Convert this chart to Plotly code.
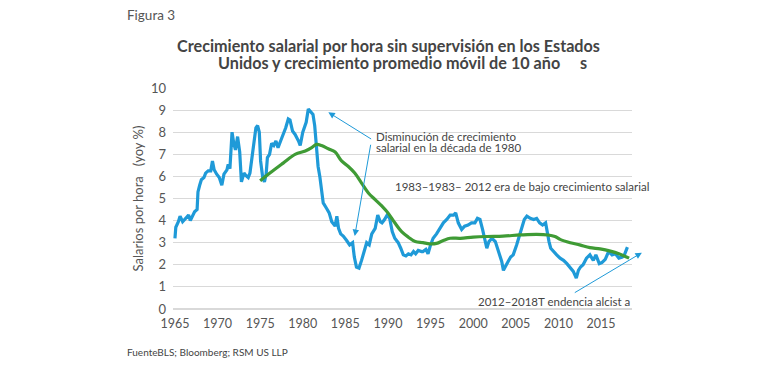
import plotly.graph_objects as go

# Hourly wage growth (yoy %)
wage_years = [1965.0, 1965.1, 1965.4, 1965.6, 1965.9, 1966.3, 1966.6, 1966.8, 1967.1, 1967.3,
              1967.6, 1967.7, 1967.9, 1968.1, 1968.4, 1968.6, 1968.9, 1969.2, 1969.4, 1969.6,
              1969.9, 1970.2, 1970.5, 1970.75, 1971.1, 1971.25, 1971.45, 1971.7, 1971.9, 1972.1,
              1972.35, 1972.6, 1972.8, 1973.1, 1973.3, 1973.6, 1973.8, 1974.0, 1974.3, 1974.5,
              1974.7, 1974.9, 1975.05, 1975.3, 1975.5, 1975.7, 1975.85, 1976.1, 1976.35, 1976.6,
              1976.85, 1977.1, 1977.4, 1977.7, 1978.0, 1978.3, 1978.5, 1978.8, 1979.1, 1979.5,
              1979.7, 1980.0, 1980.4, 1980.65, 1980.9, 1981.2, 1981.4, 1981.6, 1981.8, 1982.0,
              1982.2, 1982.4, 1982.8, 1983.1, 1983.4, 1983.8, 1984.0, 1984.2, 1984.45, 1984.75,
              1985.15, 1985.5, 1985.85, 1986.05, 1986.3, 1986.6, 1986.9, 1987.2, 1987.5, 1987.8,
              1988.1, 1988.5, 1988.8, 1989.1, 1989.3, 1989.6, 1989.9, 1990.2, 1990.5, 1990.8,
              1991.2, 1991.5, 1991.8, 1992.1, 1992.4, 1992.7, 1993.0, 1993.25, 1993.55, 1993.95,
              1994.1, 1994.45, 1994.7, 1995.0, 1995.3, 1995.7, 1996.1, 1996.5, 1996.9, 1997.3,
              1997.7, 1997.95, 1998.25, 1998.65, 1999.0, 1999.4, 1999.8, 2000.2, 2000.5, 2000.8,
              2001.1, 2001.4, 2001.6, 2001.85, 2002.2, 2002.6, 2002.95, 2003.35, 2003.55, 2003.85,
              2004.1, 2004.4, 2004.7, 2005.1, 2005.4, 2005.7, 2006.0, 2006.3, 2006.7, 2007.1,
              2007.45, 2007.8, 2008.15, 2008.5, 2008.7, 2008.9, 2009.1, 2009.4, 2009.8, 2010.2,
              2010.6, 2011.0, 2011.4, 2011.75, 2012.1, 2012.35, 2012.6, 2012.9, 2013.3, 2013.7,
              2014.1, 2014.4, 2014.8, 2015.1, 2015.5, 2015.9, 2016.3, 2016.7, 2017.1, 2017.5,
              2017.75, 2018.1]
wage_values = [3.2, 3.7, 3.95, 4.2, 3.95, 4.1, 4.25, 4.0, 4.2, 4.4,
               4.5, 5.3, 5.6, 5.85, 5.95, 6.15, 6.25, 6.25, 6.7, 6.3,
               6.1, 5.95, 5.6, 6.1, 6.3, 6.55, 6.35, 8.0, 7.5, 7.2,
               7.8, 7.1, 5.75, 6.15, 6.05, 5.95, 6.15, 6.7, 7.7, 8.2,
               8.3, 8.0, 6.7, 5.95, 5.75, 6.1, 6.85, 7.0, 7.5, 7.4,
               7.6, 7.3, 7.6, 7.9, 8.2, 8.6, 8.55, 8.05, 7.9, 7.6,
               7.4, 8.0, 8.45, 9.05, 8.95, 8.8, 8.3, 7.4, 6.45, 6.0,
               5.4, 4.8, 4.55, 4.35, 3.95, 3.75, 4.2, 3.65, 3.4, 3.3,
               3.1, 2.9, 3.0, 2.35, 1.9, 1.85, 2.2, 2.65, 3.0, 2.9,
               3.4, 3.65, 4.25, 3.95, 3.9, 4.05, 4.25, 4.1, 3.5, 3.2,
               3.0, 2.75, 2.45, 2.4, 2.5, 2.45, 2.6, 2.5, 2.65, 2.6,
               2.6, 2.7, 2.5, 2.9, 3.2, 3.4, 3.65, 3.9, 4.05, 4.25,
               4.25, 4.35, 3.9, 3.6, 3.75, 3.8, 3.9, 3.9, 4.1, 4.05,
               3.6, 3.0, 2.75, 3.05, 3.2, 3.05, 2.65, 2.15, 1.75, 2.0,
               2.15, 2.35, 2.45, 2.9, 3.3, 3.75, 4.05, 4.2, 4.1, 4.05,
               4.1, 3.9, 3.8, 3.9, 3.35, 3.05, 2.75, 2.6, 2.45, 2.3,
               2.2, 2.05, 1.85, 1.7, 1.4, 1.75, 1.9, 2.0, 2.3, 2.45,
               2.2, 2.45, 2.05, 2.1, 2.25, 2.6, 2.45, 2.5, 2.3, 2.35,
               2.45, 2.8]

# 10-year moving average
ma_years = [1975.0, 1976.15, 1977.7, 1979.1, 1980.3, 1981.05, 1981.6, 1982.2, 1983.0, 1983.8,
            1984.55, 1985.35, 1986.1, 1986.9, 1987.7, 1988.5, 1989.3, 1990.0, 1990.8, 1991.6,
            1992.4, 1993.2, 1994.1, 1994.9, 1995.7, 1996.5, 1997.3, 1998.5, 2000.0, 2001.6,
            2003.5, 2005.5, 2007.45, 2008.8, 2009.6, 2010.2, 2011.4, 2012.5, 2013.7, 2014.9,
            2016.1, 2017.1, 2018.3]
ma_values = [5.8, 6.15, 6.6, 7.0, 7.15, 7.3, 7.45, 7.4, 7.25, 7.1,
             6.7, 6.45, 6.15, 5.7, 5.25, 4.95, 4.65, 4.35, 3.9, 3.5,
             3.25, 3.05, 3.0, 2.95, 2.97, 3.1, 3.2, 3.2, 3.25, 3.28,
             3.3, 3.35, 3.38, 3.35, 3.28, 3.15, 3.0, 2.9, 2.78, 2.72,
             2.62, 2.5, 2.3]

x_ticks = [1965, 1970, 1975, 1980, 1985, 1990, 1995, 2000, 2005, 2010, 2015]
y_ticks = list(range(0, 11))

BLUE = "#1f9ad8"
GREEN = "#3f9b35"
FONT = "Lato"
TXT = "#444444"

W, H = 770, 367
OFF = 8  # page body margin of the browser
ML, MR, MT, MB = 173 - OFF, 138 + OFF, 88 - OFF, 58 + OFF
PW, PH = W - ML - MR, H - MT - MB

fig = go.Figure()
fig.add_trace(go.Scatter(x=wage_years, y=wage_values, mode="lines",
                         line=dict(color=BLUE, width=3.2), showlegend=False, hoverinfo="skip"))
fig.add_trace(go.Scatter(x=ma_years, y=ma_values, mode="lines",
                         line=dict(color=GREEN, width=3.2, shape="spline"), showlegend=False,
                         hoverinfo="skip"))

arrows = [
    dict(x=1983.0, y=8.9, ax=1988.2, ay=7.65),
    dict(x=1986.1, y=3.3, ax=1988.0, ay=7.5),
    dict(x=2019.8, y=2.55, ax=2011.75, ay=0.7),
]
for a in arrows:
    fig.add_annotation(x=a["x"], y=a["y"], ax=a["ax"], ay=a["ay"], xref="x", yref="y",
                       axref="x", ayref="y", text="", showarrow=True, arrowhead=2,
                       arrowsize=1.3, arrowwidth=1, arrowcolor=BLUE)

texts = [
    dict(text="Disminución de crecimiento", x=1988.4, y=7.81, size=11.5),
    dict(text="salarial en la década de 1980", x=1988.4, y=7.31, size=11.5),
    dict(text="1983–1983– 2012 era de bajo crecimiento salarial", x=1990.55, y=5.55, size=11.5),
    dict(text="2012–2018T endencia alcist a", x=2000.33, y=0.36, size=11.5),
]
for t in texts:
    fig.add_annotation(x=t["x"], y=t["y"], xref="x", yref="y", text=t["text"], showarrow=False,
                       xanchor="left", yanchor="middle", align="left",
                       font=dict(family=FONT, size=t["size"], color=TXT))


def paper(xp, yp):
    # xp, yp: page pixel positions
    return (xp - OFF - ML) / PW, (H - MB - (yp - OFF)) / PH


for txt, xp, yp, size, bold, color in [
    ("Figura 3", 125, 15, 13.5, False, "#555555"),
    ("Crecimiento salarial por hora sin supervisión en los Estados", 175, 45, 16.2, True, TXT),
    ("Unidos y crecimiento promedio móvil de 10 año&nbsp;&nbsp;&nbsp;&nbsp;&nbsp;s", 216, 63, 16.2, True, TXT),
    ("FuenteBLS; Bloomberg; RSM US LLP", 125, 352, 10, False, TXT),
]:
    x0, y0 = paper(xp, yp)
    fig.add_annotation(x=x0, y=y0, xref="paper", yref="paper", xanchor="left", yanchor="middle",
                       showarrow=False, text=f"<b>{txt}</b>" if bold else txt,
                       font=dict(family=FONT, size=size, color=color))

fig.update_layout(
    width=W, height=H,
    margin=dict(l=ML, r=MR, t=MT, b=MB),
    paper_bgcolor="white", plot_bgcolor="white",
    font=dict(family=FONT, color="#555555"),
    xaxis=dict(range=[1964.77, 2018.64], tickvals=x_ticks, ticktext=[str(v) for v in x_ticks],
               showgrid=False, zeroline=False, showline=False, ticks="", automargin=False,
               ticklabelstandoff=5,
               tickfont=dict(size=12.5, color="#555555")),
    yaxis=dict(range=[0, 10], tickvals=y_ticks, showgrid=True, gridcolor="#d9d9d9", gridwidth=1,
               zeroline=True, zerolinecolor="#d9d9d9", showline=False, ticks="", automargin=False,
               ticklabelstandoff=6,
               tickfont=dict(size=13, color="#555555"),
               title=dict(text="Salarios por hora&nbsp;&nbsp;&nbsp;(yoy %)", standoff=4,
                          font=dict(size=13, color="#555555"))),
)

fig.write_html("out.html")
